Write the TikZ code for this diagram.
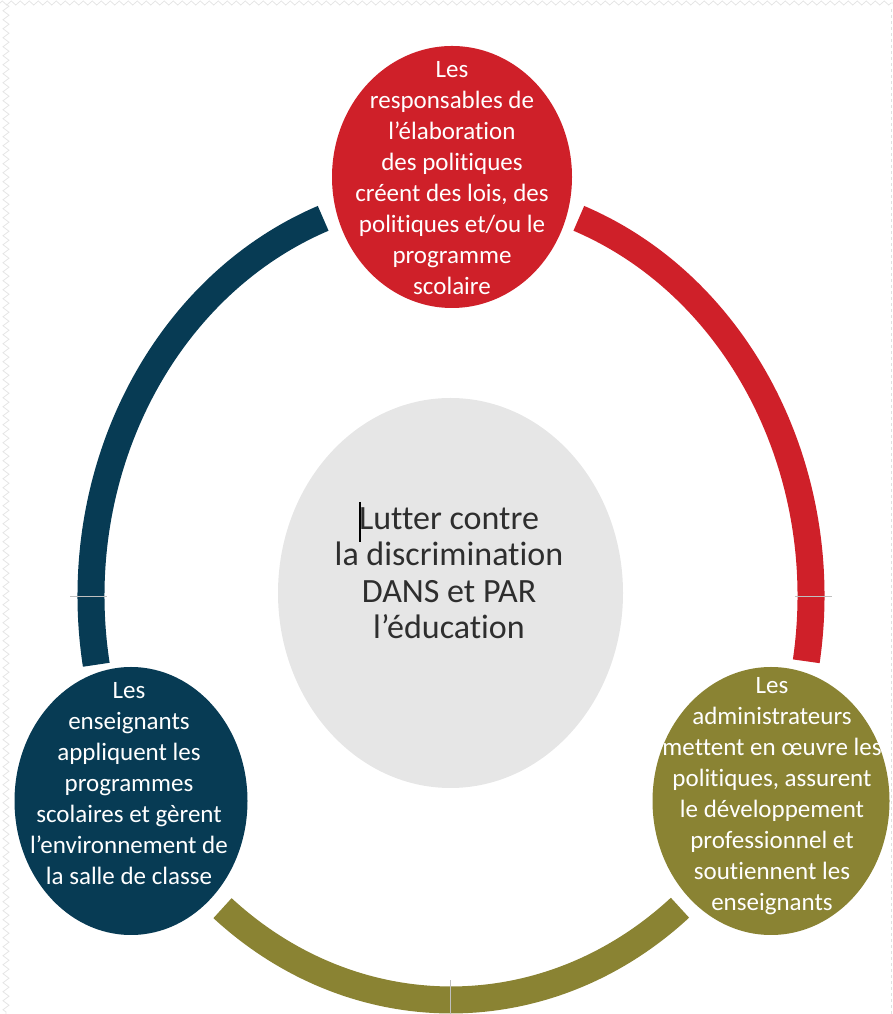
\documentclass[tikz,border=0pt]{standalone}
\usepackage{fontspec}
\setmainfont{Carlito}[RawFeature={-liga;-clig;-dlig}]
\usetikzlibrary{shapes.geometric,decorations.pathmorphing}
\definecolor{polred}{HTML}{CF2029}
\definecolor{teachblue}{HTML}{073B54}
\definecolor{adminolive}{HTML}{8A8333}
\definecolor{centergray}{HTML}{E6E6E6}
\definecolor{centertext}{HTML}{2E2E2E}
\tikzset{
  ringarc/.style={line width=27pt, line cap=butt},
  blob/.style={ellipse, inner sep=0pt, draw=none},
  bodytext/.style={text=white, align=center, font=\fontsize{25}{31}\selectfont},
  midtext/.style={text=centertext, align=center, font=\fontsize{34}{36.5}\selectfont},
  guide/.style={draw=black!25, line width=0.8pt},
  edgedeco/.style={draw=black!10, line width=0.8pt, decorate, decoration={zigzag, segment length=9pt, amplitude=3pt}}
}
\begin{document}
\begin{tikzpicture}[x=1pt,y=1pt]
\useasboundingbox (0,0) rectangle (893,1014);
% faint page edges
\draw[edgedeco] (6,1010) -- (6,0);
\draw[edgedeco, decoration={zigzag, segment length=9pt, amplitude=2pt}] (0,1011) -- (893,1011);
\draw[draw=black!12, line width=0.8pt, dashed] (891,1005) -- (891,0);
% ring centre
\coordinate (ring) at (451,418);
% arcs
\draw[ringarc, teachblue] ([shift={(110.8:360pt and 404pt)}]ring) arc[start angle=110.8, end angle=189.8, x radius=360pt, y radius=404pt];
\draw[ringarc, polred] ([shift={(69.2:360pt and 404pt)}]ring) arc[start angle=69.2, end angle=-9.3, x radius=360pt, y radius=404pt];
\draw[ringarc, adminolive] ([shift={(230.6:360pt and 404pt)}]ring) arc[start angle=230.6, end angle=309.5, x radius=360pt, y radius=404pt];
% guide ticks
\coordinate (tl1) at (70,418); \coordinate (tl2) at (107,418);
\coordinate (tr1) at (795,418); \coordinate (tr2) at (832,418);
\coordinate (tb1) at (450,0); \coordinate (tb2) at (450,34);
\draw[guide] (tl1) -- (tl2);
\draw[guide] (tr1) -- (tr2);
\draw[guide] (tb1) -- (tb2);
% centre
\node[blob, fill=centergray, minimum width=345pt, minimum height=390pt] (center) at (450.5,421) {};
\node[midtext] (centert) at (449,441) {Lutter contre\\la discrimination\\DANS et PAR\\l’éducation};
\coordinate (cur1) at (360,512); \coordinate (cur2) at (360,472);
\draw[black, line width=1.1pt] (cur1) -- (cur2);
% policy makers
\node[blob, fill=polred, minimum width=240pt, minimum height=262pt] (pol) at (452,837) {};
\node[bodytext] (polt) at (452,836) {Les\\responsables de\\l’élaboration\\des politiques\\créent des lois, des\\politiques et/ou le\\programme\\scolaire};
% teachers
\node[blob, fill=teachblue, minimum width=233pt, minimum height=268pt] (teach) at (131,213) {};
\node[bodytext] (teacht) at (129,230) {Les\\enseignants\\appliquent les\\programmes\\scolaires et gèrent\\l’environnement de\\la salle de classe};
% administrators
\node[blob, fill=adminolive, minimum width=237pt, minimum height=268pt] (admin) at (771,213) {};
\node[bodytext] (admint) at (772,218) {Les\\administrateurs\\mettent en œuvre les\\politiques, assurent\\le développement\\professionnel et\\soutiennent les\\enseignants};
\end{tikzpicture}
\end{document}
